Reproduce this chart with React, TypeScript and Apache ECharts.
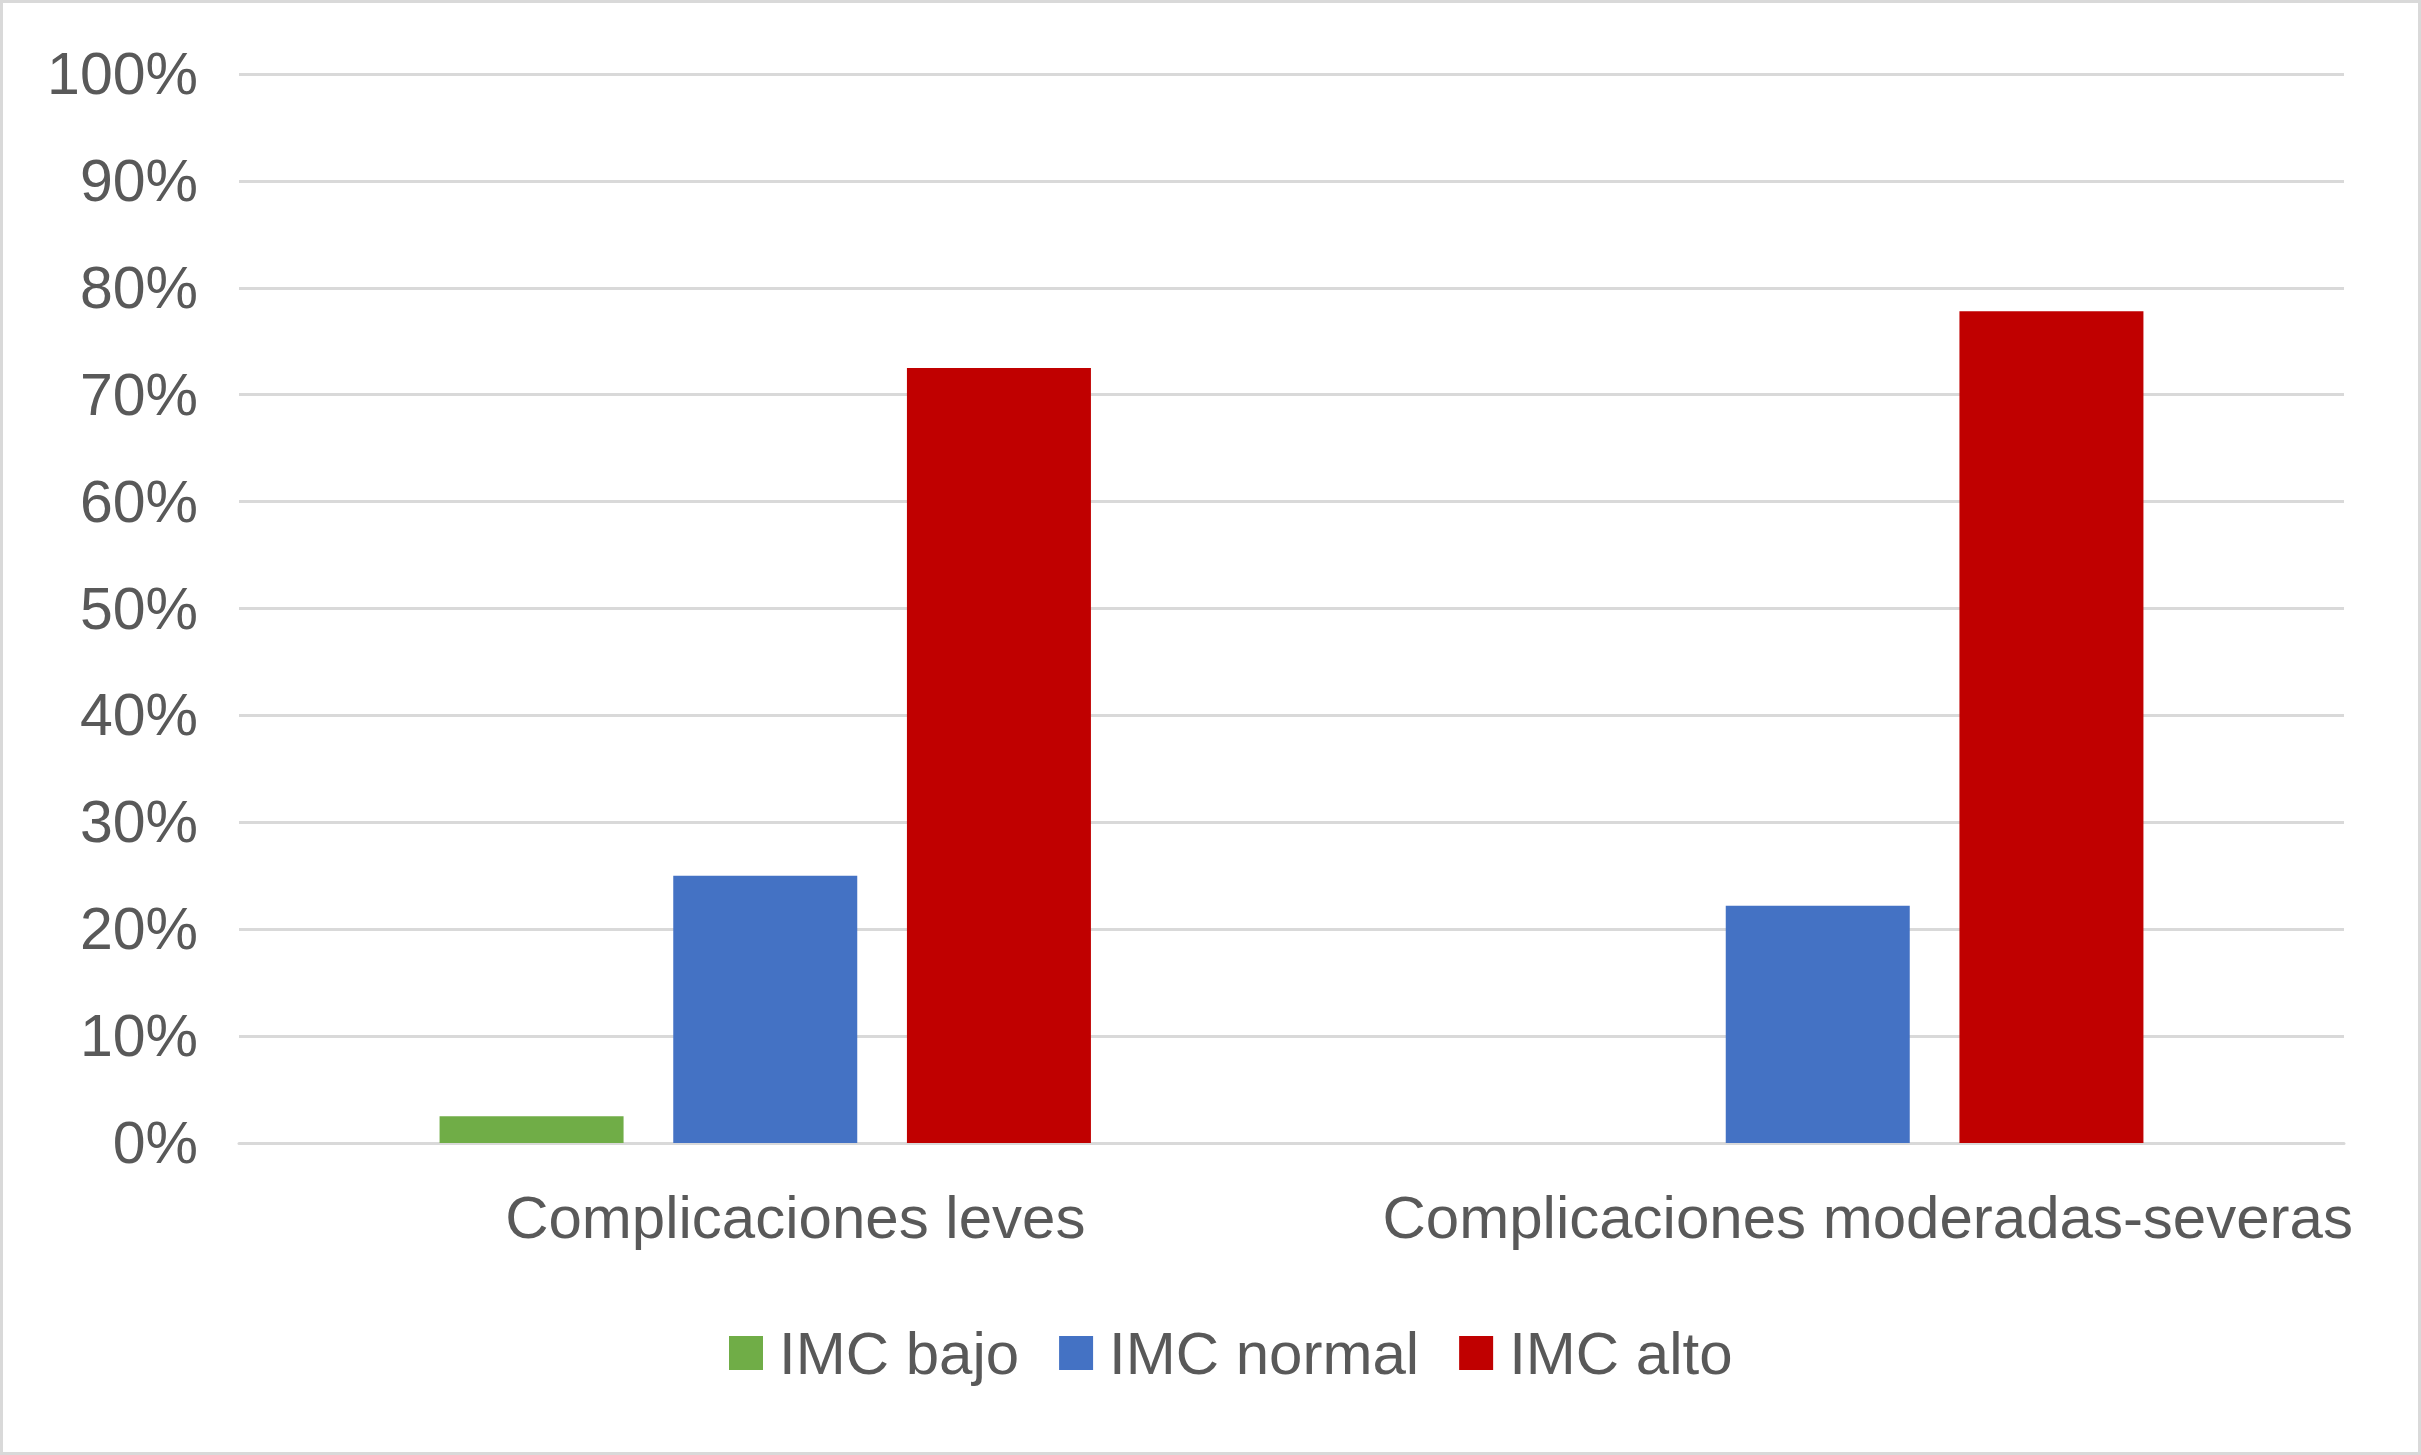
import React, { useEffect, useRef } from 'react';
import * as echarts from 'echarts';

const categories = ['Complicaciones leves', 'Complicaciones moderadas-severas'];
const seriesNames = ['IMC bajo', 'IMC normal', 'IMC alto'];
const imcBajo = [2.5, 0];
const imcNormal = [25, 22.2];
const imcAlto = [72.5, 77.8];
const colors = ['#70ad47', '#4472c4', '#c00000'];

const FONT = '"Liberation Sans", Arial, sans-serif';
const TEXT = '#595959';
const GRID = '#d9d9d9';

export default function App() {
  const chartRef = useRef<HTMLDivElement>(null);

  useEffect(() => {
    if (!chartRef.current) return;
    document.body.style.margin = '0';

    const myChart = echarts.init(chartRef.current, undefined, { renderer: 'svg' });

    const values = [imcBajo, imcNormal, imcAlto];
    const labelStyle = { color: TEXT, fontSize: 60, fontFamily: FONT };

    const option = {
      animation: false,
      backgroundColor: '#ffffff',
      textStyle: { fontFamily: FONT },
      graphic: [
        {
          type: 'rect',
          shape: { x: 1.5, y: 1.5, width: 2418, height: 1452 },
          style: { fill: 'none', stroke: GRID, lineWidth: 3 },
          silent: true
        }
      ],
      grid: {
        left: 239,
        right: 77,
        top: 74,
        bottom: 312,
        containLabel: false
      },
      legend: {
        left: 724,
        top: 1318,
        itemWidth: 34,
        itemHeight: 34,
        itemGap: 40,
        icon: 'rect',
        data: seriesNames,
        textStyle: { color: TEXT, fontSize: 60, fontFamily: FONT, padding: [0, 0, 0, 11] }
      },
      xAxis: {
        type: 'category',
        data: categories,
        axisLine: { lineStyle: { color: GRID, width: 3 } },
        axisTick: { show: false },
        axisLabel: {
          ...labelStyle,
          interval: 0,
          margin: 44,
          // the source labels sit a little right of the category centre
          formatter: (value: string, index: number) => (index === 0 ? `{a|${value}}` : `{b|${value}}`),
          rich: {
            a: { ...labelStyle, padding: [0, 0, 0, 60] },
            b: { ...labelStyle, padding: [0, 0, 0, 100] }
          }
        }
      },
      yAxis: {
        type: 'value',
        min: 0,
        max: 100,
        interval: 10,
        axisLine: { show: false },
        axisTick: { show: false },
        splitLine: { lineStyle: { color: GRID, width: 3 } },
        axisLabel: {
          color: TEXT,
          fontSize: 59,
          fontFamily: FONT,
          margin: 41,
          formatter: '{value}%'
        }
      },
      series: seriesNames.map((name, i) => ({
        name,
        type: 'bar',
        data: values[i],
        barWidth: 184,
        barGap: '27%',
        itemStyle: { color: colors[i] }
      }))
    };

    myChart.setOption(option);

    const handleResize = () => myChart.resize();
    window.addEventListener('resize', handleResize);

    return () => {
      window.removeEventListener('resize', handleResize);
      myChart.dispose();
    };
  }, []);

  return <div ref={chartRef} style={{ width: '2421px', height: '1455px' }} />;
}
